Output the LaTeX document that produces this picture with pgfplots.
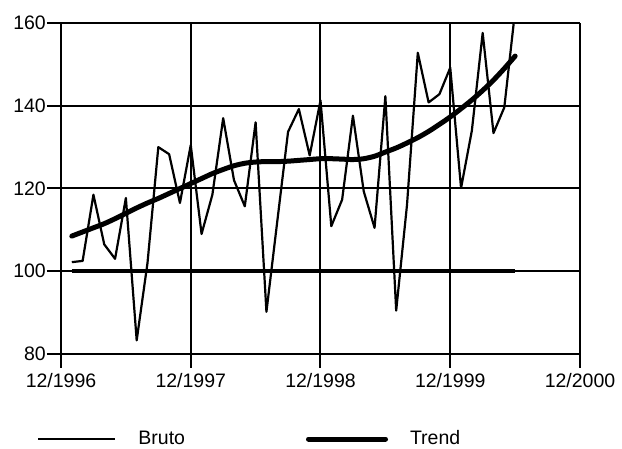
\documentclass[border=0pt]{standalone}
\usepackage{fontspec}
\setmainfont{Liberation Sans}
\usepackage{pgfplots}
\pgfplotsset{compat=1.18}
\begin{document}
\fontsize{19.5}{22}\selectfont
\begin{tikzpicture}
\begin{axis}[
  name=ax,
  scale only axis, width=519pt, height=331pt,
  xmin=0, xmax=48, ymin=80, ymax=160,
  xtick={0,12,24,36,48},
  xticklabels={12/1996,12/1997,12/1998,12/1999,12/2000},
  ytick={80,100,120,140,160},
  /pgf/number format/assume math mode=true,
  tick align=outside, major tick length=14pt,
  tick style={black, line width=2pt},
  grid=major, major grid style={black, line width=2pt},
  axis line style={line width=2.2pt},
  axis lines*=left,
  yticklabel style={inner xsep=1pt},
  xticklabel style={inner ysep=5pt},
  legend columns=2,
  legend style={at={(-0.052,-0.257)}, anchor=west, draw=none, fill=none,
    /tikz/every even column/.append style={column sep=99pt},
    nodes={inner xsep=22pt}},
  legend image code/.code={\draw[#1] (0pt,0pt) -- (77pt,0pt);},
]
\addplot[black, line width=2.2pt, line join=round] coordinates {
(1,102.2) (2,102.5) (3,118.5) (4,106.5) (5,103) (6,117.7) (7,83.3) (8,102)
(9,130) (10,128.3) (11,116.5) (12,130.5) (13,109) (14,118.5) (15,137) (16,122)
(17,115.7) (18,136) (19,90.2) (20,112) (21,133.7) (22,139.2) (23,128) (24,141.3)
(25,110.9) (26,117.3) (27,137.6) (28,119.3) (29,110.5) (30,142.3) (31,90.5) (32,116)
(33,152.8) (34,140.8) (35,142.8) (36,149.2) (37,120.1) (38,134) (39,157.6) (40,133.4)
(41,139.6) (42,163)};
\addlegendentry{Bruto}
\addplot[black, line width=5pt, smooth, line cap=round] coordinates {
(1,108.5) (2,109.5) (3,110.5) (4,111.5) (5,112.7) (6,114) (7,115.3) (8,116.5)
(9,117.6) (10,118.8) (11,120) (12,121.2) (13,122.4) (14,123.6) (15,124.6) (16,125.5)
(17,126.1) (18,126.4) (19,126.5) (20,126.5) (21,126.6) (22,126.8) (23,127) (24,127.2)
(25,127.2) (26,127.1) (27,127) (28,127.2) (29,127.8) (30,128.8) (31,129.8) (32,131)
(33,132.3) (34,133.8) (35,135.5) (36,137.3) (37,139.3) (38,141.4) (39,143.7) (40,146.2)
(41,149) (42,152)};
\addlegendentry{Trend}
\addplot[black, line width=3.8pt, forget plot] coordinates {(1,100) (42,100)};
\end{axis}
\pgfresetboundingbox
\path[use as bounding box] ([xshift=-61pt,yshift=-95pt]ax.south west) rectangle ([xshift=561pt,yshift=354pt]ax.south west);
\end{tikzpicture}
\end{document}
